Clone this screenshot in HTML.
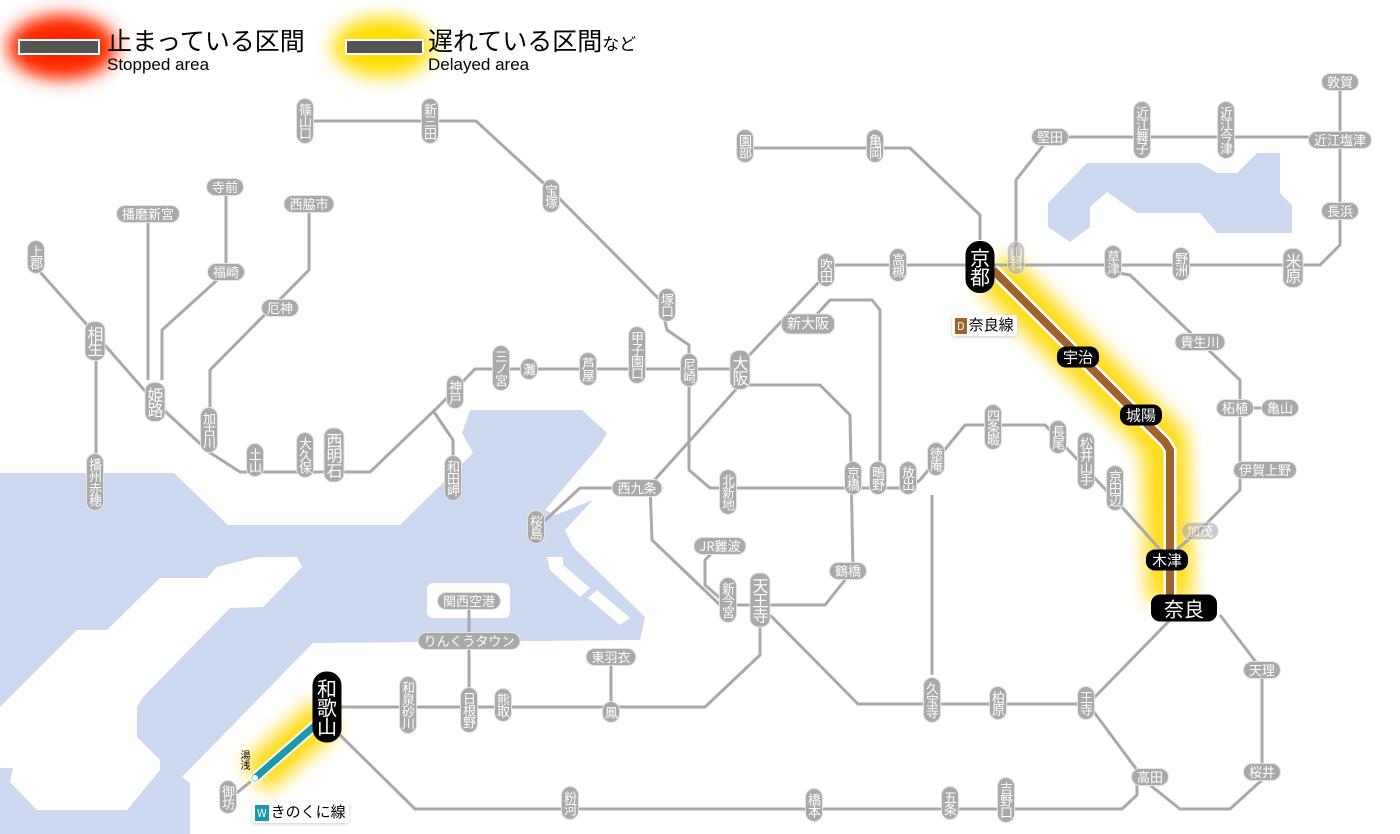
<!DOCTYPE html>
<html><head><meta charset="utf-8">
<style>
body{margin:0;width:1400px;height:834px;background:#fff;overflow:hidden;position:relative;font-family:"Liberation Sans","Noto Sans CJK JP",sans-serif}
svg{position:absolute;left:0;top:0}
.l{position:absolute;transform:translate(-50%,-50%);background:#a9a9a9;color:#fff;font-size:13px;line-height:14px;border-radius:9px;border:1.5px solid #e4e4e4;white-space:nowrap;font-family:"Noto Sans CJK JP",sans-serif}
.v{writing-mode:vertical-rl;text-orientation:upright;padding:4px 1px;letter-spacing:-1px}
.h{padding:1px 5px}
.b{font-size:16px;line-height:17px}
.k{background:#000;border-color:#000;font-size:15px;line-height:17px}
.kb{font-size:20px;line-height:21px}
</style></head><body>
<svg width="1400" height="834" viewBox="0 0 1400 834">
<defs>
<filter id="bl" x="-50%" y="-50%" width="200%" height="200%"><feGaussianBlur stdDeviation="9"/></filter>
</defs>
<!-- sea -->
<path fill="#ccd8f0" d="M0,473 L174,473 L228,525 L400,525 L473,453 L462,433 L470,410 L582,410 L607,433 L600,445 L545,510 L555,515 L593,500 L565,530 L573,547 L645,617 L640,640 L313,643 L182,777 L190,783 L190,834 L0,834 Z"/>
<path fill="#fff" d="M257,557 L297,557 L302,567 L263,607 L230,608 L143,697 L137,707 L137,737 L160,760 L160,770 L127,810 L37,810 L10,782 L13,768 L0,768 L0,707 L77,630 L107,630 L160,578 L207,578 L217,567 Z"/>
<rect x="427" y="583" width="83" height="35" rx="6" fill="#fff"/>
<path fill="#fff" d="M547,557 L563,557 L563,565 L590,588 L580,597 L550,570 Z"/>
<path fill="#fff" d="M597,590 L630,618 L620,625 L588,598 Z"/>
<path fill="#ccd8f0" d="M1087,163 L1200,163 L1217,173 L1237,173 L1257,153 L1280,153 L1280,193 L1292,205 L1292,233 L1217,233 L1200,213 L1137,213 L1107,192 L1090,207 L1090,227 L1070,242 L1048,227 L1048,203 Z"/>
<!-- legend glows -->
<ellipse cx="62" cy="47" rx="55" ry="32" fill="#ff3300" filter="url(#bl)"/>
<ellipse cx="62" cy="47" rx="40" ry="20" fill="#ff2200" filter="url(#bl)"/>
<rect x="19" y="40" width="80" height="14" fill="#555" stroke="#fff" stroke-width="2"/>
<ellipse cx="383" cy="47" rx="50" ry="30" fill="#ffdd00" filter="url(#bl)"/>
<rect x="346" y="40" width="77" height="14" fill="#555" stroke="#fff" stroke-width="2"/>
<!-- delayed glows -->
<path d="M993,270 L1165,442 L1170,600" fill="none" stroke="#ffd800" stroke-width="46" stroke-linejoin="round" filter="url(#bl)" opacity="0.9"/>
<path d="M327,715 L255,778" fill="none" stroke="#ffd800" stroke-width="40" filter="url(#bl)" opacity="0.9"/>
<g fill="none" stroke="#a9a9a9" stroke-width="3" stroke-linejoin="round">
<path d="M305,121 L476,121 L551,190 L660,300 L667,330 L689,345 L689,470 L710,488 L908,488"/>
<path d="M40,272 L96,335 L96,510"/>
<path d="M96,335 L153,400 L209,452 L240,472 L370,472 L440,405 L475,369 L740,369"/>
<path d="M148,214 L148,380"/>
<path d="M226,187 L226,272 L162,330 L162,380"/>
<path d="M309,204 L309,270 L210,370 L210,410"/>
<path d="M434,412 L453,440 L453,475"/>
<path d="M740,385 L820,385 L850,415 L853,570 L825,605 L720,605 L652,540 L650,485 L740,385"/>
<path d="M620,488 L580,488 L540,525"/>
<path d="M740,365 L835,265 L1293,265"/>
<path d="M808,324 L830,300 L872,300 L880,310 L880,478"/>
<path d="M745,148 L910,148 L980,215 L980,240"/>
<path d="M1016,258 L1016,180 L1050,137 L1340,137 L1340,82"/>
<path d="M1340,137 L1340,245 L1320,265 L1293,265"/>
<path d="M1113,272 L1130,275 L1240,380 L1240,490 L1200,530 L1170,555"/>
<path d="M1240,408 L1280,408"/>
<path d="M908,488 L920,480 L965,425 L1045,425 L1120,505 L1165,555"/>
<path d="M932,495 L932,675"/>
<path d="M720,545 L705,560 L705,585 L728,605"/>
<path d="M770,615 L858,704 L1088,704 L1170,620"/>
<path d="M760,620 L760,655 L705,707 L340,707"/>
<path d="M1088,704 L1137,770 L1137,795 L1122,809 L415,809 L340,735"/>
<path d="M1140,777 L1180,809 L1230,809 L1262,780 L1262,670 L1220,615"/>
<path d="M469,600 L469,707"/>
<path d="M611,657 L611,707"/>
<path d="M255,778 L228,800"/>
</g>
<!-- Nara line -->
<path d="M993,270 L1165,442 L1170,450 L1170,600" fill="none" stroke="#fff" stroke-width="13" stroke-linejoin="round"/>
<path d="M993,270 L1165,442 L1170,450 L1170,600" fill="none" stroke="#a0622a" stroke-width="8" stroke-linejoin="round"/>
<path d="M327,715 L255,778" stroke="#fff" stroke-width="11" stroke-linecap="round"/>
<path d="M327,715 L255,778" stroke="#1a9aa8" stroke-width="7" stroke-linecap="round"/>
<circle cx="255" cy="778" r="3" fill="#fff"/>
</svg>
<div style="position:absolute;left:107px;top:25px;font-size:25px;line-height:30px;font-family:'Noto Sans CJK JP',sans-serif">止まっている区間</div>
<div style="position:absolute;left:107px;top:55px;font-size:17px;line-height:20px">Stopped area</div>
<div style="position:absolute;left:428px;top:25px;font-size:25px;line-height:30px;font-family:'Noto Sans CJK JP',sans-serif">遅れている区間<span style="font-size:17px">など</span></div>
<div style="position:absolute;left:428px;top:55px;font-size:17px;line-height:20px">Delayed area</div>

<div class="l v" style="left:305px;top:121px">篠山口</div>
<div class="l v" style="left:430px;top:121px">新三田</div>
<div class="l v" style="left:551px;top:196px">宝塚</div>
<div class="l v" style="left:745px;top:146px">園部</div>
<div class="l v" style="left:875px;top:146px">亀岡</div>
<div class="l h" style="left:1050px;top:137px">堅田</div>
<div class="l v" style="left:1142px;top:130px">近江舞子</div>
<div class="l v" style="left:1226px;top:130px">近江今津</div>
<div class="l h" style="left:1340px;top:82px">敦賀</div>
<div class="l h" style="left:1340px;top:140px">近江塩津</div>
<div class="l h" style="left:1340px;top:211px">長浜</div>
<div class="l v b" style="left:1293px;top:268px">米原</div>
<div class="l h" style="left:225px;top:187px">寺前</div>
<div class="l h" style="left:148px;top:214px">播磨新宮</div>
<div class="l h" style="left:309px;top:204px">西脇市</div>
<div class="l h" style="left:226px;top:272px">福崎</div>
<div class="l v" style="left:36px;top:257px">上郡</div>
<div class="l v b" style="left:95px;top:341px">相生</div>
<div class="l v b" style="left:155px;top:402px">姫路</div>
<div class="l h" style="left:280px;top:308px">厄神</div>
<div class="l v" style="left:209px;top:430px">加古川</div>
<div class="l v" style="left:95px;top:482px">播州赤穂</div>
<div class="l v" style="left:255px;top:460px">土山</div>
<div class="l v" style="left:305px;top:455px">大久保</div>
<div class="l v b" style="left:334px;top:455px">西明石</div>
<div class="l v" style="left:455px;top:392px">神戸</div>
<div class="l v" style="left:453px;top:478px">和田岬</div>
<div class="l v" style="left:501px;top:368px">三ノ宮</div>
<div class="l v" style="left:529px;top:369px">灘</div>
<div class="l v" style="left:588px;top:369px">芦屋</div>
<div class="l v" style="left:637px;top:355px">甲子園口</div>
<div class="l v" style="left:667px;top:305px">塚口</div>
<div class="l v" style="left:689px;top:370px">尼崎</div>
<div class="l v b" style="left:740px;top:370px">大阪</div>
<div class="l h b" style="left:808px;top:324px;font-size:14px">新大阪</div>
<div class="l v" style="left:826px;top:270px">吹田</div>
<div class="l v" style="left:898px;top:265px">高槻</div>
<div class="l v" style="left:1016px;top:258px;opacity:.6">山科</div>
<div class="l v" style="left:1113px;top:262px">草津</div>
<div class="l v" style="left:1181px;top:264px">野洲</div>
<div class="l h" style="left:1200px;top:342px">貴生川</div>
<div class="l h" style="left:1235px;top:408px">柘植</div>
<div class="l h" style="left:1280px;top:408px">亀山</div>
<div class="l h" style="left:1265px;top:470px">伊賀上野</div>
<div class="l h" style="left:1200px;top:531px;opacity:.6">加茂</div>
<div class="l h" style="left:1262px;top:670px">天理</div>
<div class="l h" style="left:1262px;top:772px">桜井</div>
<div class="l h" style="left:1150px;top:777px">高田</div>
<div class="l v" style="left:1086px;top:703px">王寺</div>
<div class="l v" style="left:998px;top:703px">柏原</div>
<div class="l v" style="left:932px;top:700px">久宝寺</div>
<div class="l v" style="left:908px;top:478px">放出</div>
<div class="l v" style="left:878px;top:478px">鴫野</div>
<div class="l v" style="left:853px;top:478px">京橋</div>
<div class="l v" style="left:936px;top:459px">徳庵</div>
<div class="l v" style="left:993px;top:427px">四条畷</div>
<div class="l v" style="left:1058px;top:437px">長尾</div>
<div class="l v" style="left:1086px;top:461px">松井山手</div>
<div class="l v" style="left:1115px;top:488px">京田辺</div>
<div class="l v" style="left:728px;top:492px">北新地</div>
<div class="l h" style="left:637px;top:488px">西九条</div>
<div class="l v" style="left:536px;top:527px">桜島</div>
<div class="l h" style="left:720px;top:546px">JR難波</div>
<div class="l v" style="left:728px;top:600px">新今宮</div>
<div class="l v b" style="left:760px;top:600px">天王寺</div>
<div class="l h" style="left:848px;top:571px">鶴橋</div>
<div class="l h" style="left:469px;top:601px">関西空港</div>
<div class="l h" style="left:469px;top:641px">りんくうタウン</div>
<div class="l h" style="left:611px;top:657px">東羽衣</div>
<div class="l v" style="left:611px;top:712px">鳳</div>
<div class="l v" style="left:408px;top:705px">和泉砂川</div>
<div class="l v" style="left:469px;top:710px">日根野</div>
<div class="l v" style="left:503px;top:705px">熊取</div>
<div class="l v" style="left:228px;top:797px">御坊</div>
<div class="l v" style="left:570px;top:803px">粉河</div>
<div class="l v" style="left:814px;top:805px">橋本</div>
<div class="l v" style="left:950px;top:803px">五条</div>
<div class="l v" style="left:1006px;top:800px">吉野口</div>

<div class="l v k kb" style="left:980px;top:267px;border-radius:14px;padding:6px 3px">京都</div>
<div class="l v k kb" style="left:327px;top:707px;border-radius:14px;padding:6px 3px">和歌山</div>
<div class="l h k" style="left:1078px;top:357px">宇治</div>
<div class="l h k" style="left:1141px;top:415px">城陽</div>
<div class="l h k" style="left:1167px;top:560px">木津</div>
<div class="l h k kb" style="left:1184px;top:608px;padding:2px 12px">奈良</div>
<div style="position:absolute;left:240px;top:750px;writing-mode:vertical-rl;font-size:10px;line-height:11px;font-family:'Noto Sans CJK JP',sans-serif">湯浅</div>
<div style="position:absolute;left:952px;top:315px;font-size:15px;line-height:20px;font-family:'Noto Sans CJK JP',sans-serif;background:#fff;padding:0 3px;border-radius:3px;box-shadow:0 1px 3px #ccc"><span style="background:#a0622a;color:#fff;font-size:11px;padding:0 2px;margin-right:2px">D</span>奈良線</div>
<div style="position:absolute;left:252px;top:802px;font-size:15px;line-height:20px;font-family:'Noto Sans CJK JP',sans-serif;background:#fff;padding:0 3px;border-radius:3px;box-shadow:0 1px 3px #ccc"><span style="background:#1a9aa8;color:#fff;font-size:11px;padding:0 2px;margin-right:2px">W</span>きのくに線</div>
</body></html>
